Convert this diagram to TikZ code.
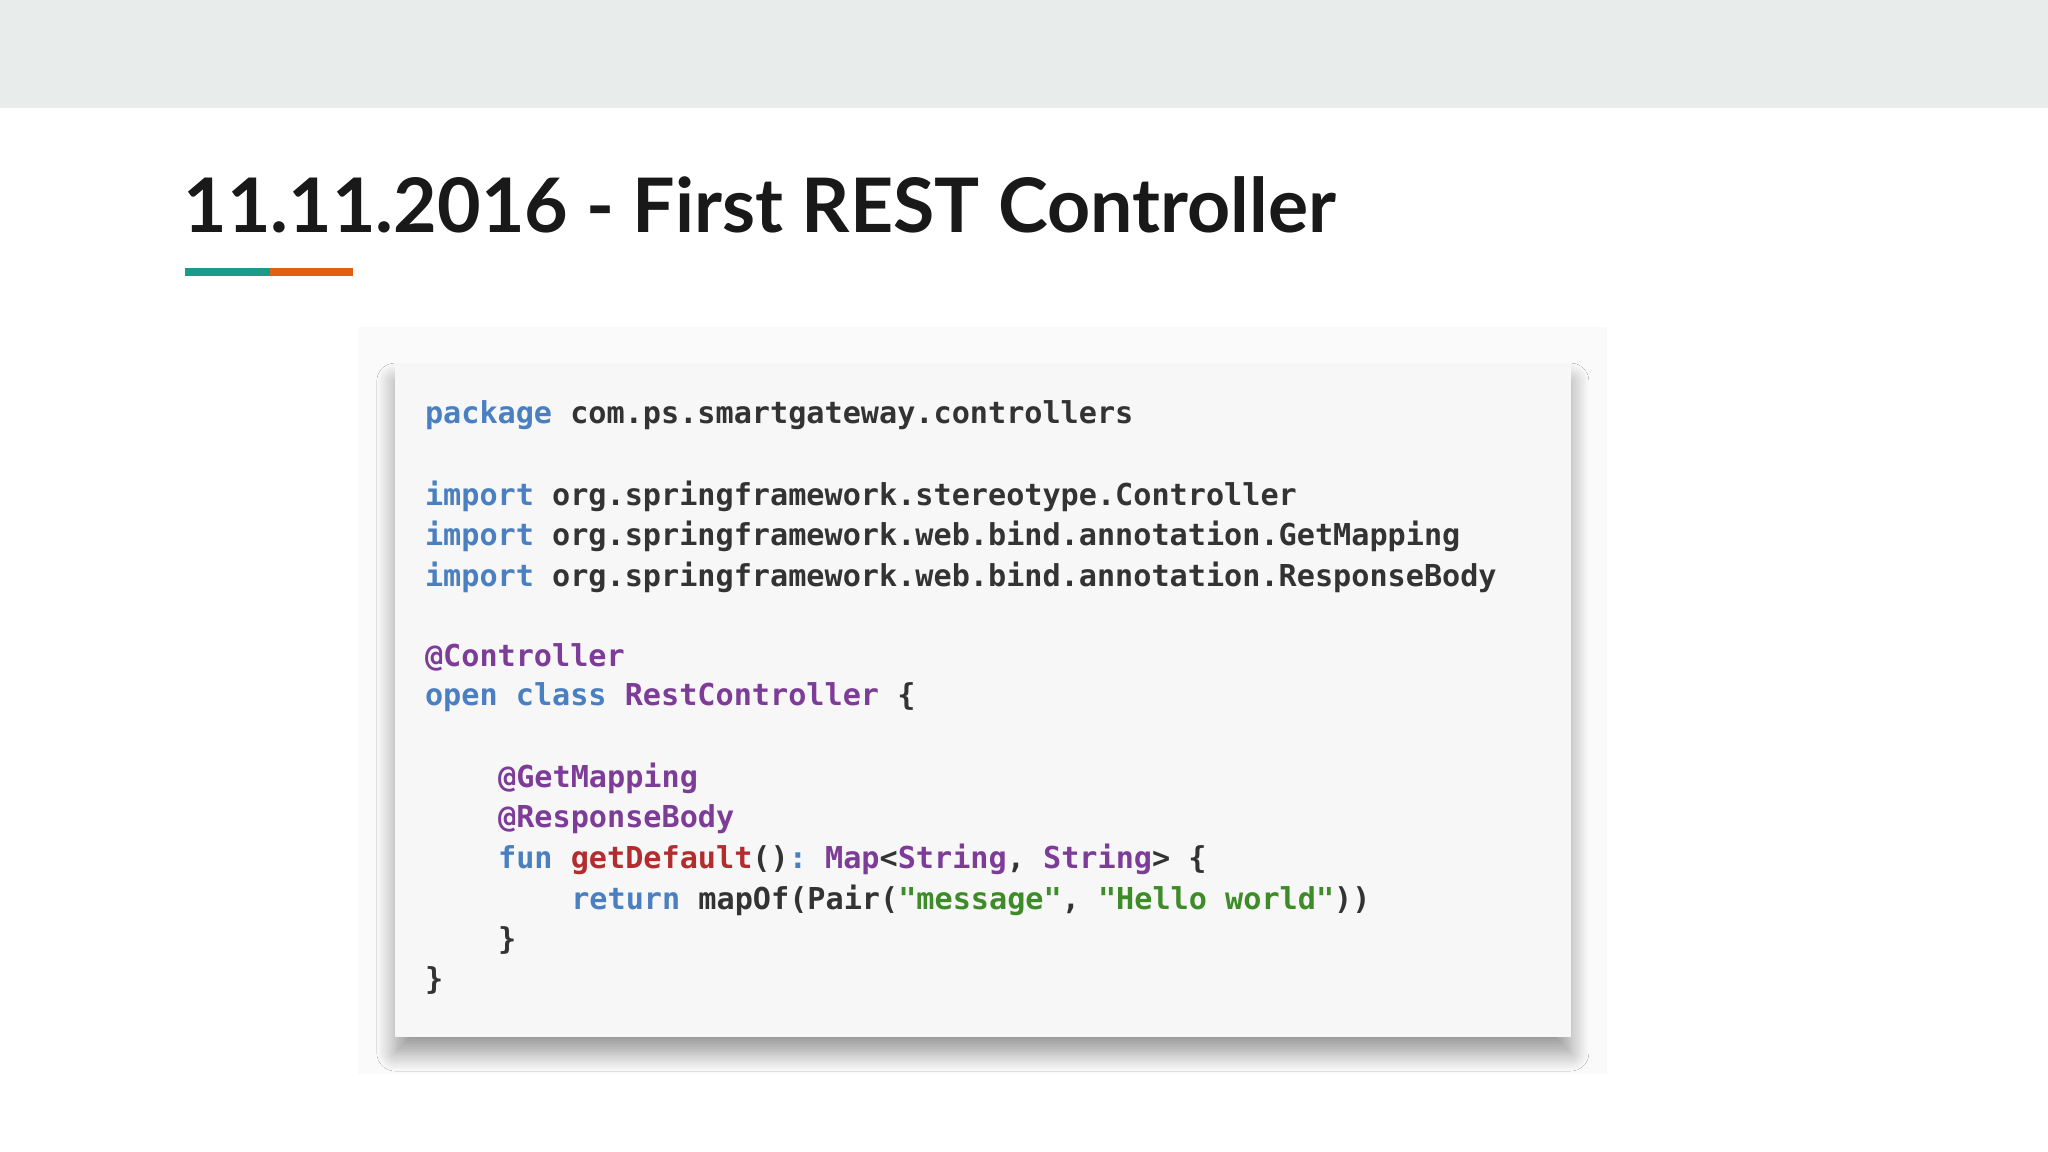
\documentclass[tikz,border=0pt]{standalone}
\usepackage{fontspec}
\setmainfont{Lato}
\setmonofont{DejaVu Sans Mono}
\usetikzlibrary{shadows.blur}
\definecolor{band}{HTML}{E8EDEB}
\definecolor{teal}{HTML}{1A9A8A}
\definecolor{orng}{HTML}{E0600F}
\definecolor{kw}{HTML}{4A7FC1}
\definecolor{pu}{HTML}{7D3C98}
\definecolor{rd}{HTML}{B22D2D}
\definecolor{gr}{HTML}{3D8C27}
\definecolor{tx}{HTML}{333333}
\newcommand{\K}[1]{\textcolor{kw}{#1}}
\newcommand{\PU}[1]{\textcolor{pu}{#1}}
\newcommand{\RD}[1]{\textcolor{rd}{#1}}
\newcommand{\GR}[1]{\textcolor{gr}{#1}}
\begin{document}
\begin{tikzpicture}[x=0.5pt,y=-0.5pt,
  code/.style={anchor=west,inner sep=0,text=tx,font=\ttfamily\bfseries\fontsize{11.55}{14}\selectfont}]
\useasboundingbox (0,0) rectangle (1568,882);
\fill[white] (0,0) rectangle (1568,882);
\fill[band] (0,0) rectangle (1568,83);
\node[anchor=west,inner sep=0,font=\bfseries\fontsize{28.8}{34}\selectfont,text=black!90] (title) at (140,157) {11.11.2016 - First REST Controller};
\fill[teal] (142,205) rectangle (207,211);
\fill[orng] (207,205) rectangle (270,211);
\fill[black!2] (274,250) rectangle (1230,822);
\node[draw=none,fill=black!3,minimum width=450pt,minimum height=257pt,inner sep=0,blur shadow={shadow blur steps=12,shadow xshift=0pt,shadow yshift=-6pt,shadow blur radius=7pt,shadow blur extra rounding=0pt,shadow opacity=40}] (box) at (752.5,537) {};
\node[code] (l1) at (325,318) {\K{package} com.ps.smartgateway.controllers};
\node[code] (l2) at (325,380) {\K{import} org.springframework.stereotype.Controller};
\node[code] (l3) at (325,411) {\K{import} org.springframework.web.bind.annotation.GetMapping};
\node[code] (l4) at (325,442) {\K{import} org.springframework.web.bind.annotation.ResponseBody};
\node[code] (l5) at (325,503) {\PU{@Controller}};
\node[code] (l6) at (325,534) {\K{open} \K{class} \PU{RestController} \{};
\node[code] (l7) at (381,596) {\PU{@GetMapping}};
\node[code] (l8) at (381,627) {\PU{@ResponseBody}};
\node[code] (l9) at (381,658) {\K{fun} \RD{getDefault}()\K{:} \PU{Map}<\PU{String}, \PU{String}> \{};
\node[code] (l10) at (437,689) {\K{return} mapOf(Pair(\GR{"message"}, \GR{"Hello world"}))};
\node[code] (l11) at (381,720) {\}};
\node[code] (l12) at (325,751) {\}};
\end{tikzpicture}
\end{document}
